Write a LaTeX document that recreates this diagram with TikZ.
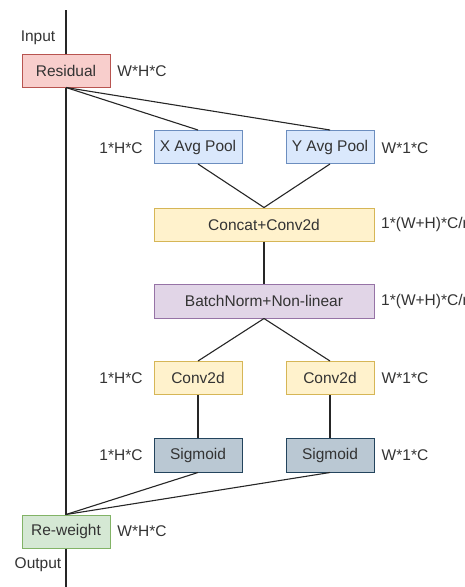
\documentclass[tikz,border=0pt]{standalone}
\usepackage{fontspec}
\setmainfont{Liberation Sans}
\definecolor{txt}{HTML}{333333}
\definecolor{redF}{HTML}{F8CECC}\definecolor{redD}{HTML}{B85450}
\definecolor{bluF}{HTML}{DAE8FC}\definecolor{bluD}{HTML}{6C8EBF}
\definecolor{yelF}{HTML}{FFF2CC}\definecolor{yelD}{HTML}{D6B656}
\definecolor{purF}{HTML}{E1D5E7}\definecolor{purD}{HTML}{9673A6}
\definecolor{grnF}{HTML}{D5E8D4}\definecolor{grnD}{HTML}{82B366}
\definecolor{sigF}{HTML}{BAC8D3}\definecolor{sigD}{HTML}{23445D}
\begin{document}
\begin{tikzpicture}[x=1pt,y=-1pt,
  every node/.style={font=\fontsize{15.5}{18}\selectfont, text=txt, inner sep=0pt},
  box/.style={draw, line width=1pt, minimum width=88pt, minimum height=33pt},
  wide/.style={box, minimum width=220pt},
  redbox/.style={box, fill=redF, draw=redD},
  blubox/.style={box, fill=bluF, draw=bluD},
  yelbox/.style={box, fill=yelF, draw=yelD},
  purbox/.style={wide, fill=purF, draw=purD},
  grnbox/.style={box, fill=grnF, draw=grnD},
  sigbox/.style={box, fill=sigF, draw=sigD},
  conn/.style={line width=1.1pt, draw=black!85}]
\useasboundingbox (0,0) rectangle (465,587);
\coordinate (top) at (66,10);
\coordinate (bot) at (66,587);
\node[redbox] (res) at (66,70.5) {Residual};
\node[blubox] (xp) at (198,147) {X Avg Pool};
\node[blubox] (yp) at (330,147) {Y Avg Pool};
\node[yelbox, minimum width=220pt] (cc) at (264,224.5) {Concat+Conv2d};
\node[purbox, minimum height=34pt] (bn) at (264,301) {BatchNorm+Non-linear};
\node[yelbox] (c1) at (198,378) {Conv2d};
\node[yelbox] (c2) at (330,378) {Conv2d};
\node[sigbox, minimum height=34pt] (s1) at (198,455) {Sigmoid};
\node[sigbox, minimum height=34pt] (s2) at (330,455) {Sigmoid};
\node[grnbox] (rw) at (66,531.5) {Re-weight};
\draw[conn] (top) -- (res.north);
\draw[conn] (res.south) -- (rw.north);
\draw[conn] (rw.south) -- (bot);
\draw[conn] (res.south) -- (xp.north);
\draw[conn] (res.south) -- (yp.north);
\draw[conn] (xp.south) -- (cc.north);
\draw[conn] (yp.south) -- (cc.north);
\draw[conn] (cc.south) -- (bn.north);
\draw[conn] (bn.south) -- (c1.north);
\draw[conn] (bn.south) -- (c2.north);
\draw[conn] (c1.south) -- (s1.north);
\draw[conn] (c2.south) -- (s2.north);
\draw[conn] (s1.south) -- (rw.north);
\draw[conn] (s2.south) -- (rw.north);
\node (lin) at (38,38) {Input};
\node (lout) at (38,565) {Output};
\node (l1) at (142,71) {W*H*C};
\node (l2) at (121,148) {1*H*C};
\node (l3) at (405,148) {W*1*C};
\node[anchor=west] (l4) at (381,224.5) {1*(W+H)*C/r};
\node[anchor=west] (l5) at (381,301) {1*(W+H)*C/r};
\node (l6) at (121,378) {1*H*C};
\node (l7) at (405,378) {W*1*C};
\node (l8) at (121,455) {1*H*C};
\node (l9) at (405,455) {W*1*C};
\node (l10) at (142,531.5) {W*H*C};
\end{tikzpicture}
\end{document}
